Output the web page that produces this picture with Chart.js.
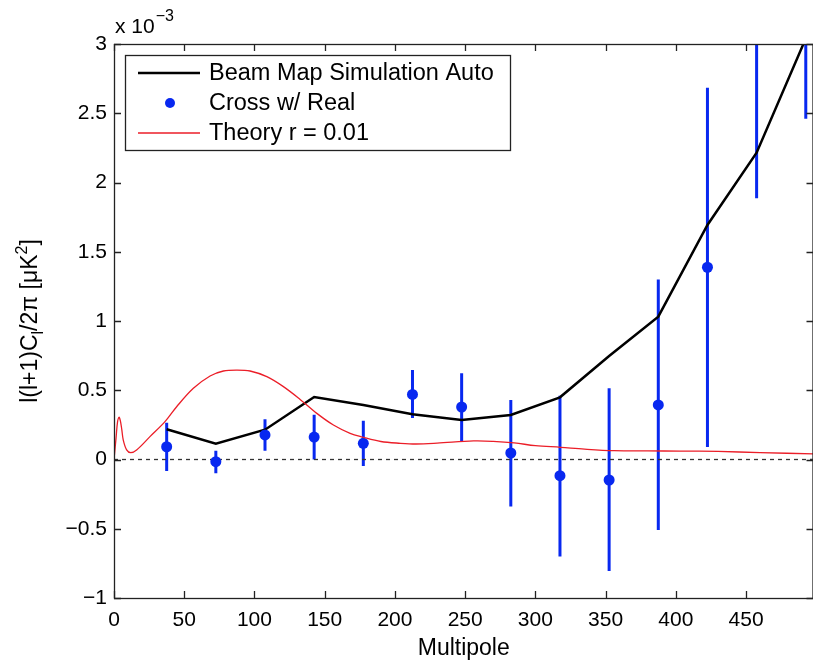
<!DOCTYPE html>
<html>
<head>
<meta charset="utf-8">
<script src="https://cdn.jsdelivr.net/npm/chart.js@4.4.1/dist/chart.umd.min.js"></script>
<style>
html,body{margin:0;padding:0;background:#fff;overflow:hidden;}
#wrap{width:813px;height:660px;overflow:hidden;}
</style>
</head>
<body>
<div id="wrap"><canvas id="c" width="819" height="660"></canvas></div>
<script>
// ---- data (values in units of 1e-3 uK^2) ----
const binCenters = [37.5, 72.5, 107.5, 142.5, 177.5, 212.5, 247.5, 282.5, 317.5, 352.5, 387.5, 422.5, 457.5, 492.5];
const beamMapAuto = [0.218, 0.114, 0.215, 0.451, 0.393, 0.326, 0.285, 0.321, 0.449, 0.747, 1.031, 1.693, 2.215, 3.04];
const crossReal   = [0.092, -0.016, 0.177, 0.162, 0.117, 0.470, 0.379, 0.047, -0.117, -0.148, 0.394, 1.388, 3.6, 4.0];
const crossLow    = [-0.083, -0.100, 0.064, 0.000, -0.047, 0.300, 0.134, -0.340, -0.700, -0.805, -0.509, 0.090, 1.886, 2.460];
const crossHigh   = [0.266, 0.064, 0.290, 0.323, 0.280, 0.646, 0.622, 0.430, 0.460, 0.514, 1.300, 2.685, 5.30, 5.50];
const theoryEll   = [0, 1.5, 2.5, 3.6, 4.5, 5.5, 6.6, 9, 11.9, 16.1, 25.6, 36.3, 44.6, 56.5, 68.4, 77.9, 87.4, 96.9, 108.8, 120.6, 132.5, 144.4, 156.2, 168.1, 177, 190, 204, 215, 230, 256, 270, 285, 300, 318, 335, 356, 380, 403, 430, 460, 498];
const theoryR001  = [0, 0.16, 0.27, 0.305, 0.28, 0.22, 0.14, 0.069, 0.049, 0.069, 0.165, 0.273, 0.381, 0.514, 0.603, 0.639, 0.646, 0.639, 0.598, 0.526, 0.434, 0.333, 0.249, 0.189, 0.162, 0.13, 0.117, 0.112, 0.118, 0.134, 0.131, 0.12, 0.10, 0.088, 0.075, 0.064, 0.062, 0.061, 0.058, 0.05, 0.04];
const xTickValues = [0, 50, 100, 150, 200, 250, 300, 350, 400, 450];
const yTickValues = [-1, -0.5, 0, 0.5, 1, 1.5, 2, 2.5, 3];
const seriesLabels = ['Beam Map Simulation Auto', 'Cross w/ Real', 'Theory r = 0.01'];
const xLimits = [0, 498];
const yLimits = [-1, 3];

const FONT = '"Liberation Sans", Arial, Helvetica, sans-serif';
const BLUE = 'rgb(8,40,240)';
const RED = 'rgb(235,30,40)';

const toXY = (xs, ys) => xs.map((x, i) => ({x: x, y: ys[i]}));

const errorBarPlugin = {
  id: 'errorBars',
  beforeDatasetsDraw(chart) {
    const {ctx, chartArea: a, scales: {x, y}} = chart;
    ctx.save();
    ctx.beginPath(); ctx.rect(a.left, a.top, a.right - a.left, a.bottom - a.top); ctx.clip();
    ctx.strokeStyle = BLUE; ctx.lineWidth = 3;
    binCenters.forEach((c, i) => {
      const px = x.getPixelForValue(c);
      ctx.beginPath();
      ctx.moveTo(px, y.getPixelForValue(crossLow[i]));
      ctx.lineTo(px, y.getPixelForValue(crossHigh[i]));
      ctx.stroke();
    });
    ctx.restore();
  }
};

const framePlugin = {
  id: 'frame',
  afterDatasetsDraw(chart) {
    const {ctx, chartArea: a, scales: {x, y}} = chart;
    ctx.save();
    ctx.strokeStyle = '#222'; ctx.lineWidth = 1.3;
    ctx.strokeRect(a.left + 0.5, a.top + 0.5, a.right - a.left - 1, a.bottom - a.top);
    const tl = 7;
    ctx.beginPath();
    xTickValues.forEach(v => {
      const px = Math.round(x.getPixelForValue(v)) + 0.5;
      ctx.moveTo(px, a.bottom); ctx.lineTo(px, a.bottom - tl);
      ctx.moveTo(px, a.top); ctx.lineTo(px, a.top + tl);
    });
    yTickValues.forEach(v => {
      const py = Math.round(y.getPixelForValue(v)) + 0.5;
      ctx.moveTo(a.left, py); ctx.lineTo(a.left + tl, py);
      ctx.moveTo(a.right, py); ctx.lineTo(a.right - tl, py);
    });
    ctx.stroke();
    ctx.restore();
  },
  afterDraw(chart) {
    const {ctx, chartArea: a} = chart;
    ctx.save();
    // exponent label
    ctx.fillStyle = '#000';
    ctx.textBaseline = 'alphabetic';
    ctx.textAlign = 'left';
    ctx.font = '21px ' + FONT;
    ctx.fillText('x 10', a.left + 1, 33);
    const w = ctx.measureText('x 10').width;
    ctx.font = '16px ' + FONT;
    ctx.fillText('\u22123', a.left + 1 + w + 1, 21);

    // y axis title with sub/superscript
    const parts = [
      {t: 'l(l+1)C', f: 23, dy: 0},
      {t: 'l', f: 16, dy: 6},
      {t: '/2\u03c0 [\u03bcK', f: 23, dy: 0},
      {t: '2', f: 16, dy: -10},
      {t: ']', f: 23, dy: 0}
    ];
    let total = 0;
    parts.forEach(p => { ctx.font = p.f + 'px ' + FONT; p.w = ctx.measureText(p.t).width; total += p.w; });
    ctx.translate(37, (a.top + a.bottom) / 2);
    ctx.rotate(-Math.PI / 2);
    let cx = -total / 2;
    parts.forEach(p => {
      ctx.font = p.f + 'px ' + FONT;
      ctx.fillText(p.t, cx, p.dy);
      cx += p.w;
    });
    ctx.restore();

    // legend box
    ctx.save();
    const bx = 125.5, by = 55.5, bw = 385, bh = 95;
    ctx.fillStyle = '#fff';
    ctx.fillRect(bx, by, bw, bh);
    ctx.strokeStyle = '#222'; ctx.lineWidth = 1.3;
    ctx.strokeRect(bx, by, bw, bh);
    const rows = [73, 103, 133];
    ctx.font = '23.5px ' + FONT;
    ctx.textBaseline = 'middle';
    ctx.strokeStyle = '#000'; ctx.lineWidth = 2.5;
    ctx.beginPath(); ctx.moveTo(138, rows[0]); ctx.lineTo(200, rows[0]); ctx.stroke();
    ctx.fillStyle = BLUE;
    ctx.beginPath(); ctx.arc(170, rows[1], 5, 0, Math.PI * 2); ctx.fill();
    ctx.strokeStyle = RED; ctx.lineWidth = 1.3;
    ctx.beginPath(); ctx.moveTo(138, rows[2]); ctx.lineTo(200, rows[2]); ctx.stroke();
    ctx.fillStyle = '#000';
    seriesLabels.forEach((s, i) => ctx.fillText(s, 209, rows[i] + 1));
    ctx.restore();
  }
};

new Chart(document.getElementById('c'), {
  type: 'scatter',
  data: {
    datasets: [
      {
        label: seriesLabels[2],
        data: toXY(theoryEll, theoryR001),
        showLine: true, borderColor: RED, borderWidth: 1.3, pointRadius: 0,
        tension: 0.35, order: 0
      },
      {
        label: seriesLabels[1],
        data: toXY(binCenters, crossReal),
        showLine: false, backgroundColor: BLUE, borderColor: BLUE, pointRadius: 5.5, borderWidth: 0, order: 1
      },
      {
        label: seriesLabels[0],
        data: toXY(binCenters, beamMapAuto),
        showLine: true, borderColor: '#000', borderWidth: 2.5, pointRadius: 0, tension: 0, order: 2
      },
      {
        label: 'zero',
        data: toXY(xLimits, [0, 0]),
        showLine: true, borderColor: '#333', borderWidth: 1.3, borderDash: [4, 4], pointRadius: 0, order: 3
      }
    ]
  },
  options: {
    responsive: false,
    animation: false,
    devicePixelRatio: 1,
    layout: {padding: {top: 44, right: 1, left: 0, bottom: 0}},
    plugins: {legend: {display: false}, tooltip: {enabled: false}},
    scales: {
      x: {
        type: 'linear', min: xLimits[0], max: xLimits[1],
        grid: {display: false, drawTicks: false}, border: {display: false},
        afterFit(s) { s.height = 62; s.paddingLeft = 0; s.paddingRight = 0; },
        afterBuildTicks(s) { s.ticks = xTickValues.map(v => ({value: v})); },
        ticks: {color: '#000', font: {family: FONT, size: 21}, padding: 10, maxRotation: 0, autoSkip: false},
        title: {display: true, text: 'Multipole', color: '#000', font: {family: FONT, size: 23}, padding: {top: 0, bottom: -2}}
      },
      y: {
        type: 'linear', min: yLimits[0], max: yLimits[1],
        grid: {display: false, drawTicks: false}, border: {display: false},
        afterFit(s) { s.width = 114; s.paddingTop = 0; s.paddingBottom = 0; },
        afterBuildTicks(s) { s.ticks = yTickValues.map(v => ({value: v})); },
        ticks: {color: '#000', font: {family: FONT, size: 21}, padding: 7,
          callback: v => (v < 0 ? '\u2212' + String(-v) : String(v))}
      }
    }
  },
  plugins: [errorBarPlugin, framePlugin]
});
</script>
</body>
</html>
